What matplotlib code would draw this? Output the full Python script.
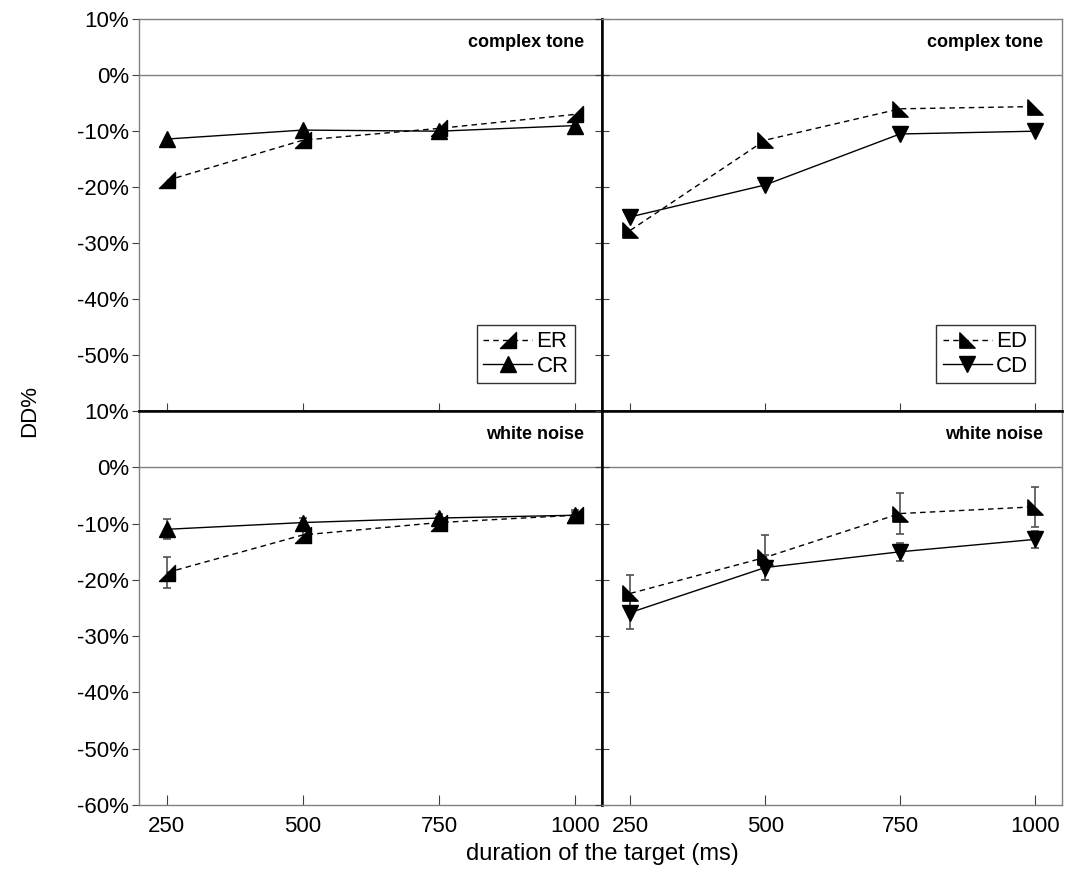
import matplotlib.pyplot as plt
from matplotlib.path import Path

plt.rcParams['font.family'] = ['Liberation Sans', 'DejaVu Sans']

# durations (ms)
durations = [250, 500, 750, 1000]

# complex tone, DD% values
tone_er = [-18.8, -11.6, -9.5, -7.0]
tone_cr = [-11.4, -9.8, -10.0, -9.0]
tone_ed = [-27.7, -11.6, -6.0, -5.6]
tone_cd = [-25.3, -19.6, -10.5, -10.0]

# white noise, DD% values and error bars
noise_er = [-18.7, -12.0, -9.8, -8.5]
noise_er_err = [2.7, 1.5, 1.0, 1.0]
noise_cr = [-11.0, -9.8, -9.0, -8.5]
noise_cr_err = [1.8, 0.8, 0.8, 0.6]
noise_ed = [-22.4, -16.0, -8.2, -7.0]
noise_ed_err = [3.3, 4.0, 3.6, 3.6]
noise_cd = [-25.8, -17.8, -15.0, -12.8]
noise_cd_err = [3.0, 2.3, 1.6, 1.5]

titles = ['complex tone', 'white noise']
yticks_top = [10, 0, -10, -20, -30, -40, -50]
yticks_bottom = [10, 0, -10, -20, -30, -40, -50, -60]

# half-triangle markers
m_er = Path([(-1, -1), (1, -1), (1, 1), (-1, -1)], closed=True)
m_ed = Path([(-1, -1), (1, -1), (-1, 1), (-1, -1)], closed=True)

fig = plt.figure(figsize=(10.66, 8.73), dpi=100)
L, M, R = 0.130, 0.565, 0.996
T, H, B = 0.978, 0.529, 0.078
ax_tl = fig.add_axes([L, H, M - L, T - H])
ax_tr = fig.add_axes([M, H, R - M, T - H])
ax_bl = fig.add_axes([L, B, M - L, H - B])
ax_br = fig.add_axes([M, B, R - M, H - B])

FS = 16
gray = '#808080'
dash = (0, (4, 3))

def style(ax, top, left):
    ax.set_xlim(198, 1050)
    ax.set_ylim(-60, 10)
    ax.axhline(0, color=gray, lw=1, zorder=1)
    for s in ax.spines.values():
        s.set_color(gray)
        s.set_linewidth(1)
    ax.set_xticks(durations)
    ax.set_yticks(yticks_top if top else yticks_bottom)
    if top:
        ax.spines['bottom'].set_color('black')
        ax.spines['bottom'].set_linewidth(1.8)
        ax.tick_params(axis='x', direction='inout', length=12, labelbottom=False,
                       color='#404040')
    else:
        ax.spines['top'].set_color('black')
        ax.spines['top'].set_linewidth(1.8)
        ax.tick_params(axis='x', direction='in', length=7, labelsize=FS, pad=8,
                       color='#404040')
    if left:
        ax.spines['right'].set_color('black')
        ax.spines['right'].set_linewidth(1.8)
        ax.set_yticklabels([f'{v}%' for v in ax.get_yticks()])
        ax.tick_params(axis='y', direction='out', length=5, labelsize=FS, pad=2,
                       color='#404040')
    else:
        ax.spines['left'].set_color('black')
        ax.spines['left'].set_linewidth(1.8)
        ax.tick_params(axis='y', direction='inout', length=10, labelleft=False,
                       color='#404040')
    ax.text(0.96, 0.94, titles[0] if top else titles[1], transform=ax.transAxes,
            ha='right', va='center', fontsize=13, fontweight='bold')

style(ax_tl, True, True)
style(ax_tr, True, False)
style(ax_bl, False, True)
style(ax_br, False, False)

ms = 11
kw = dict(color='black', lw=1, markersize=ms, zorder=3)

ax_tl.plot(durations, tone_er, ls=dash, marker=m_er, label='ER', **kw)
ax_tl.plot(durations, tone_cr, ls='-', marker='^', label='CR', **kw)
ax_tr.plot(durations, tone_ed, ls=dash, marker=m_ed, label='ED', **kw)
ax_tr.plot(durations, tone_cd, ls='-', marker='v', label='CD', **kw)

ekw = dict(ecolor='#505050', elinewidth=1.2, capsize=3, capthick=1.2)
ax_bl.errorbar(durations, noise_er, yerr=noise_er_err, ls=dash, marker=m_er, **kw, **ekw)
ax_bl.errorbar(durations, noise_cr, yerr=noise_cr_err, ls='-', marker='^', **kw, **ekw)
ax_br.errorbar(durations, noise_ed, yerr=noise_ed_err, ls=dash, marker=m_ed, **kw, **ekw)
ax_br.errorbar(durations, noise_cd, yerr=noise_cd_err, ls='-', marker='v', **kw, **ekw)

for ax in (ax_tl, ax_tr):
    leg = ax.legend(loc='lower right', bbox_to_anchor=(0.942, 0.071), borderaxespad=0,
                    fontsize=FS, frameon=True, fancybox=False, handlelength=2.2,
                    handletextpad=0.2, labelspacing=0.15, borderpad=0.3)
    leg.get_frame().set_edgecolor('black')
    leg.get_frame().set_linewidth(1)

fig.text(0.028, 0.529, 'DD%', rotation=90, ha='center', va='center', fontsize=FS)
fig.text(0.565, 0.022, 'duration of the target (ms)', ha='center', va='center', fontsize=17)

fig.savefig('out.png', dpi=100)
